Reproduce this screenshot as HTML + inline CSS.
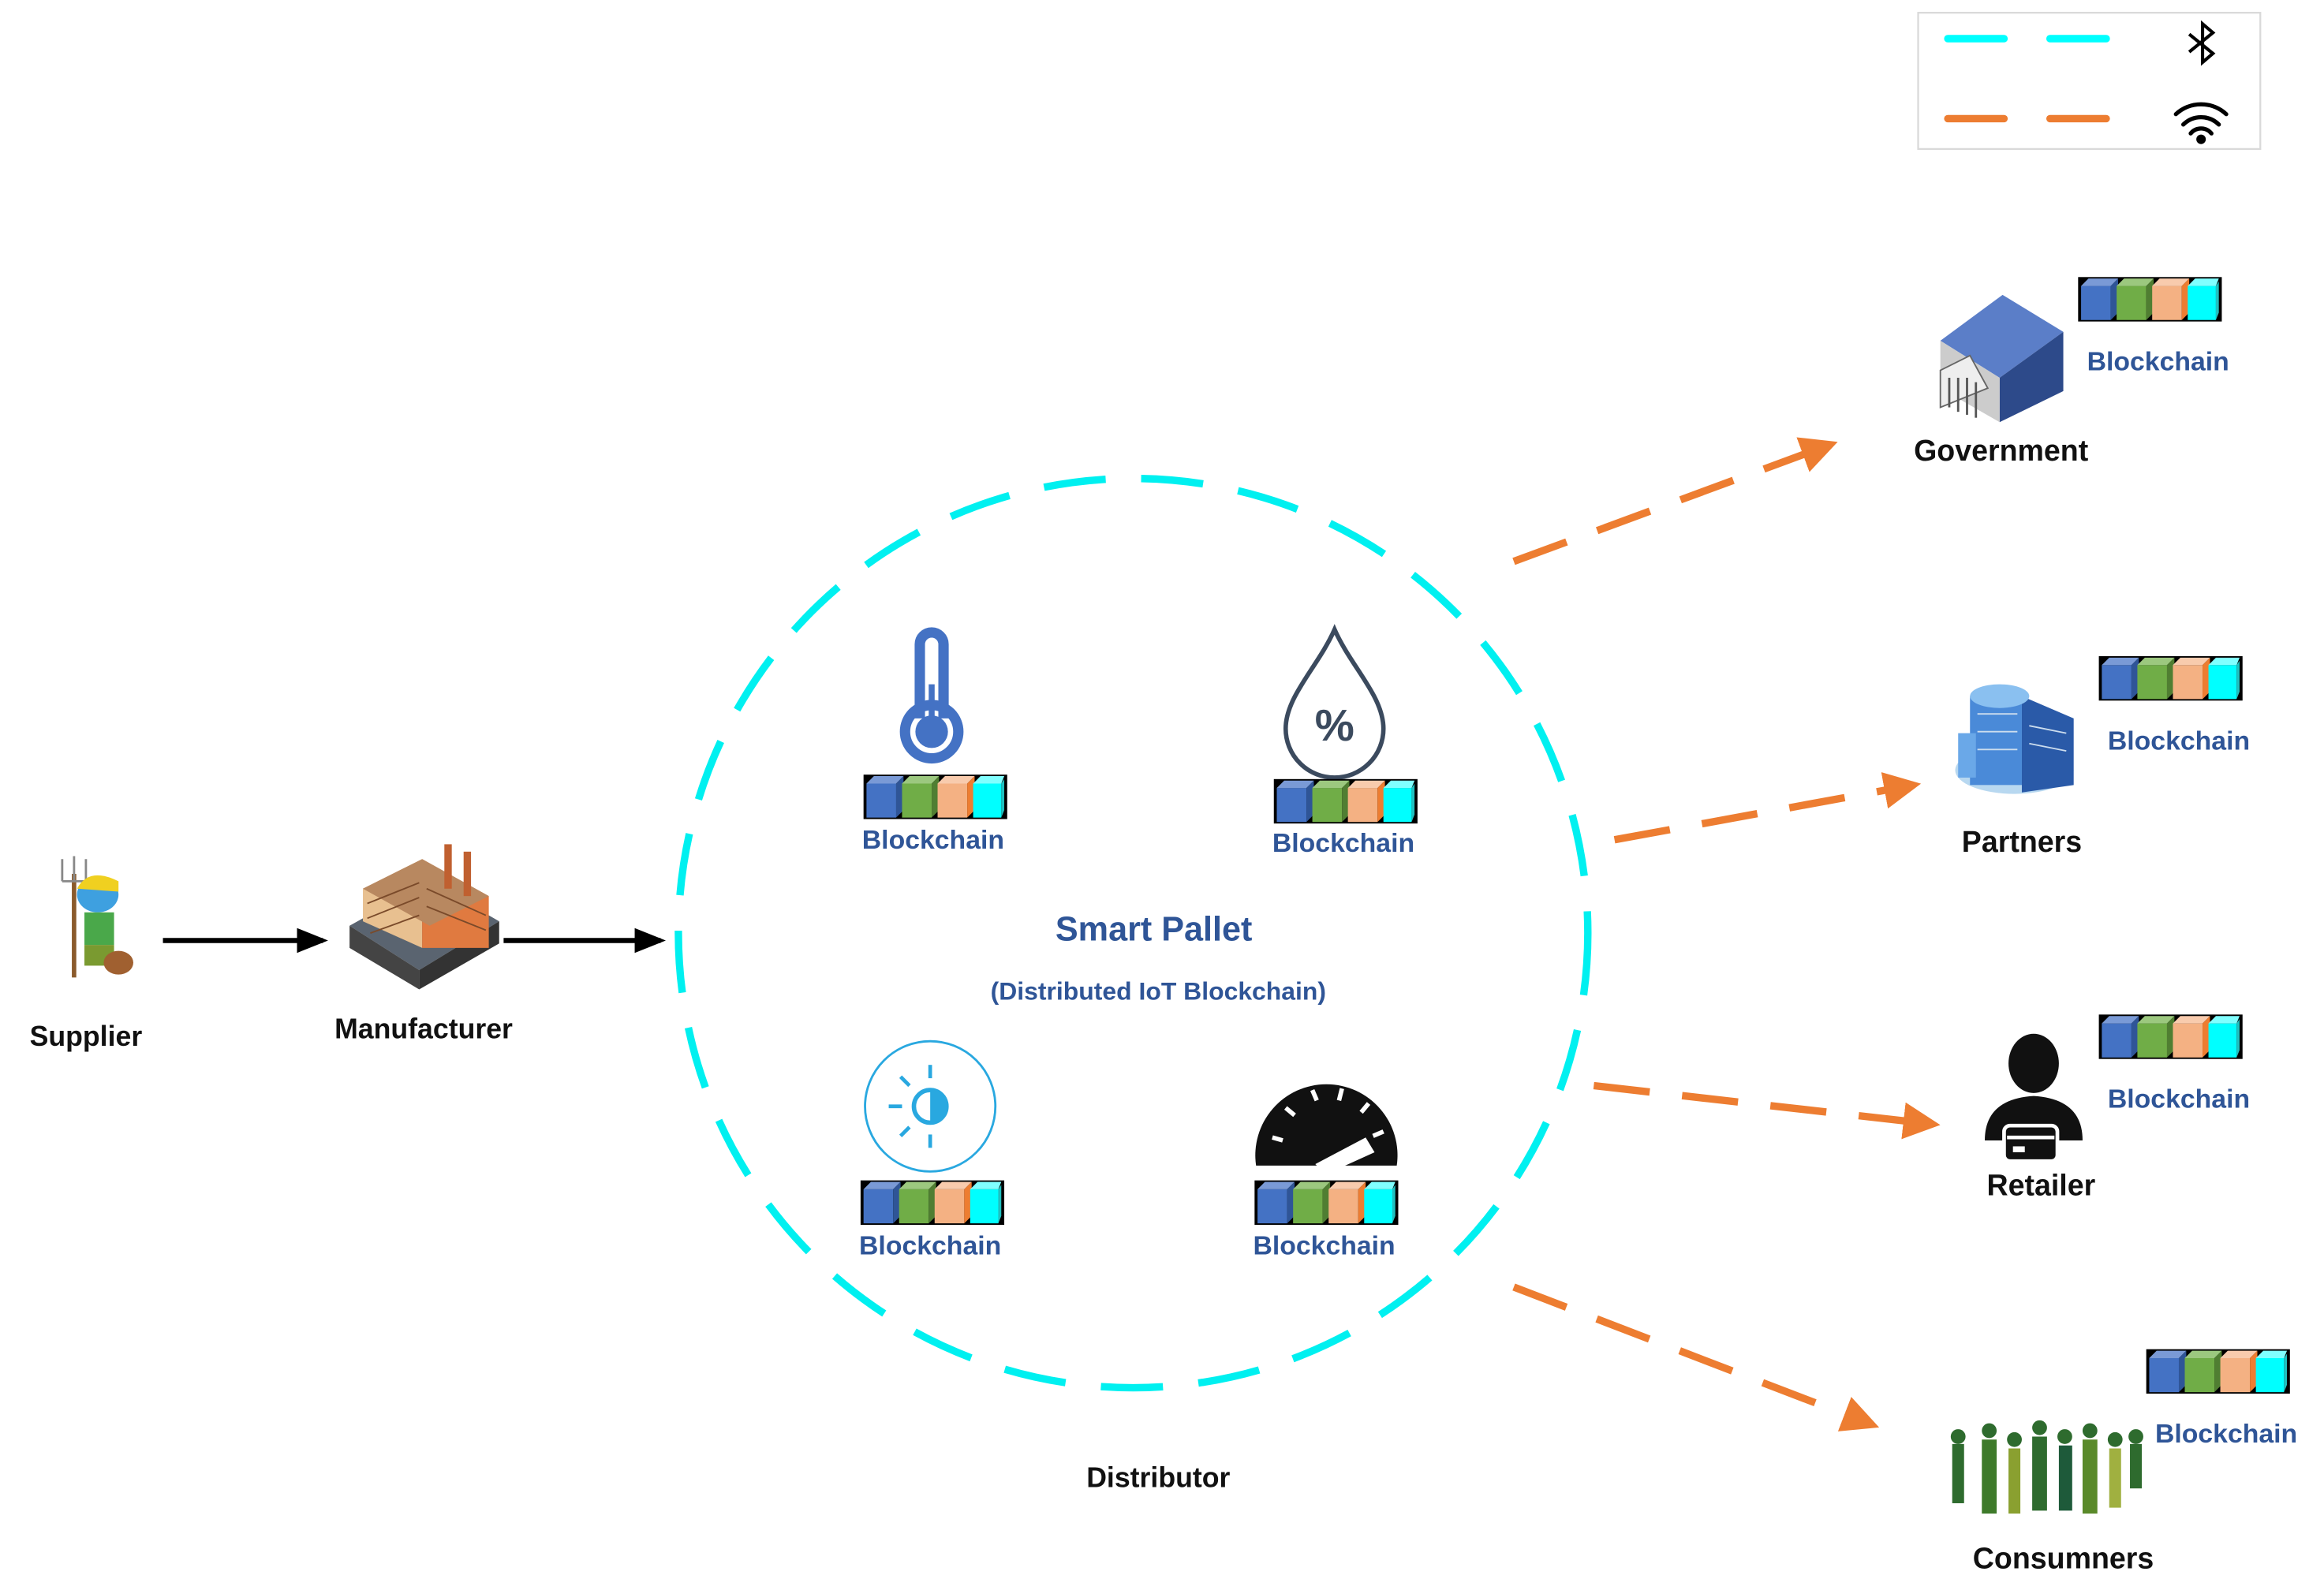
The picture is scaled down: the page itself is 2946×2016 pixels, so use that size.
<!DOCTYPE html>
<html><head><meta charset="utf-8"><style>
html,body{margin:0;padding:0;background:#fff;}
svg{display:block;}
text{font-family:"Liberation Sans",sans-serif;font-weight:bold;}
</style></head><body>
<svg width="2946" height="2016" viewBox="0 0 1569 1073.5" xmlns="http://www.w3.org/2000/svg">
<defs>
<g id="bc">
<rect x="0" y="0" width="97" height="30" fill="#000"/>
<g>
<rect x="2" y="6" width="20" height="23" fill="#4472C4"/><polygon points="2,6 7,1 27,1 22,6" fill="#7a9ad6"/><polygon points="22,6 27,1 27,24 22,29" fill="#2f5597"/>
<rect x="26" y="6" width="20" height="23" fill="#70AD47"/><polygon points="26,6 31,1 51,1 46,6" fill="#9cc87f"/><polygon points="46,6 51,1 51,24 46,29" fill="#507e32"/>
<rect x="50" y="6" width="20" height="23" fill="#F4B183"/><polygon points="50,6 55,1 75,1 70,6" fill="#f8cbad"/><polygon points="70,6 75,1 75,24 70,29" fill="#ed7d31"/>
<rect x="74" y="6" width="19" height="23" fill="#00FFFF"/><polygon points="74,6 79,1 95,1 93,6" fill="#80ffff"/><polygon points="93,6 95,3 95,24 93,29" fill="#20c0c0"/>
</g>
</g>
<marker id="ab" markerWidth="6" markerHeight="6" refX="5" refY="3" orient="auto" markerUnits="strokeWidth"><path d="M0,0.6 L6,3 L0,5.4 Z" fill="#000"/></marker>
<marker id="ao" markerWidth="5" markerHeight="5" refX="4" refY="2.5" orient="auto" markerUnits="strokeWidth"><path d="M0,0 L5,2.5 L0,5 Z" fill="#ED7D31"/></marker>
</defs>

<!-- legend -->
<rect x="1295" y="8.5" width="231" height="92" fill="#fff" stroke="#d9d9d9" stroke-width="1.2"/>
<g stroke-linecap="round" stroke-width="5">
<line x1="1315" y1="26" x2="1353" y2="26" stroke="#00FFFF"/>
<line x1="1384" y1="26" x2="1422" y2="26" stroke="#00FFFF"/>
<line x1="1315" y1="80" x2="1353" y2="80" stroke="#ED7D31"/>
<line x1="1384" y1="80" x2="1422" y2="80" stroke="#ED7D31"/>
</g>
<path d="M1478,23 L1494,36 L1487,42 L1487,16 L1494,22 L1478,35" fill="none" stroke="#000" stroke-width="2.2"/>
<g fill="none" stroke="#000" stroke-width="2.8" stroke-linecap="round">
<path d="M1469,77 A25,25 0 0 1 1503,77"/>
<path d="M1474,84 A17,17 0 0 1 1498,84"/>
<path d="M1479,90 A9,9 0 0 1 1493,90"/>
</g>
<circle cx="1486" cy="94" r="3.2" fill="#000"/>

<!-- circle -->
<ellipse cx="765" cy="630" rx="307" ry="307" fill="none" stroke="#00F0F0" stroke-width="5" stroke-dasharray="42 24"/>

<!-- black arrows -->
<line x1="110" y1="635" x2="218" y2="635" stroke="#000" stroke-width="3.5" marker-end="url(#ab)"/>
<line x1="340" y1="635" x2="446" y2="635" stroke="#000" stroke-width="3.5" marker-end="url(#ab)"/>

<!-- orange arrows -->
<g stroke="#ED7D31" stroke-width="5" stroke-dasharray="38 22" fill="none">
<line x1="1022" y1="379" x2="1236" y2="300" marker-end="url(#ao)"/>
<line x1="1090" y1="567" x2="1292" y2="530" marker-end="url(#ao)"/>
<line x1="1076" y1="733" x2="1305" y2="759" marker-end="url(#ao)"/>
<line x1="1022" y1="869" x2="1264" y2="962" marker-end="url(#ao)"/>
</g>

<!-- thermometer -->
<g fill="none" stroke="#4472C4" stroke-width="7">
<path d="M621,485 L621,435 A8,8 0 0 1 637,435 L637,485"/>
<circle cx="629" cy="494" r="18"/>
</g>
<circle cx="629" cy="494" r="11" fill="#4472C4"/>
<line x1="629" y1="462" x2="629" y2="494" stroke="#4472C4" stroke-width="4"/>
<use href="#bc" x="583" y="523"/>
<text x="630" y="573" text-anchor="middle" font-size="18" fill="#2F5597">Blockchain</text>

<!-- drop -->
<path d="M901,425 C890,450 868,470 868,492 A33,33 0 0 0 934,492 C934,470 912,450 901,425 Z" fill="none" stroke="#3b4a5e" stroke-width="3"/>
<text x="901" y="500" text-anchor="middle" font-size="30" fill="#3b4a5e" font-weight="normal">%</text>
<use href="#bc" x="860" y="526"/>
<text x="907" y="575" text-anchor="middle" font-size="18" fill="#2F5597">Blockchain</text>

<!-- smart pallet -->
<text x="779" y="635" text-anchor="middle" font-size="23" fill="#2F5597">Smart Pallet</text>
<text x="782" y="675" text-anchor="middle" font-size="17" fill="#2F5597">(Distributed IoT Blockchain)</text>

<!-- light sensor -->
<circle cx="628" cy="747" r="44" fill="none" stroke="#29A8E0" stroke-width="1.5"/>
<circle cx="628" cy="747" r="11" fill="none" stroke="#29A8E0" stroke-width="3"/>
<path d="M628,736 A11,11 0 0 1 628,758 Z" fill="#29A8E0"/>
<g stroke="#29A8E0" stroke-width="2.5">
<line x1="628" y1="719" x2="628" y2="728"/><line x1="628" y1="766" x2="628" y2="775"/>
<line x1="600" y1="747" x2="609" y2="747"/>
<line x1="608" y1="727" x2="614" y2="733"/><line x1="608" y1="767" x2="614" y2="761"/>
</g>
<use href="#bc" x="581" y="797"/>
<text x="628" y="847" text-anchor="middle" font-size="18" fill="#2F5597">Blockchain</text>

<!-- gauge -->
<path d="M848,787 A48,48 0 1 1 943,787 Z" fill="#111"/>
<g stroke="#fff" stroke-width="3">
<line x1="859" y1="768" x2="866" y2="770"/><line x1="868" y1="748" x2="874" y2="753"/>
<line x1="886" y1="736" x2="889" y2="743"/><line x1="906" y1="735" x2="904" y2="743"/>
<line x1="924" y1="745" x2="919" y2="751"/><line x1="934" y1="764" x2="927" y2="767"/>
</g>
<path d="M888,786 L922,768 L928,778 L895,793 Z" fill="#fff"/>
<use href="#bc" x="847" y="797"/>
<text x="894" y="847" text-anchor="middle" font-size="18" fill="#2F5597">Blockchain</text>

<text x="782" y="1004" text-anchor="middle" font-size="19" fill="#111">Distributor</text>

<!-- supplier -->
<g>
<line x1="50" y1="590" x2="50" y2="660" stroke="#8a5a2b" stroke-width="3"/>
<path d="M42,580 L42,595 M50,578 L50,595 M58,580 L58,595 M42,595 L58,595" stroke="#888" stroke-width="1.5" fill="none"/>
<ellipse cx="66" cy="604" rx="14" ry="12" fill="#3ea0e0"/>
<path d="M52,600 Q60,585 80,595 L80,602 Z" fill="#f0d020"/>
<rect x="57" y="616" width="20" height="22" fill="#4aa84a"/>
<rect x="57" y="638" width="20" height="14" fill="#7a9a30"/>
<ellipse cx="80" cy="650" rx="10" ry="8" fill="#a06030"/>
</g>
<text x="58" y="706" text-anchor="middle" font-size="19" fill="#111">Supplier</text>

<!-- manufacturer -->
<g>
<polygon points="236,625 290,595 337,622 283,655" fill="#5a6470"/>
<polygon points="236,625 283,655 283,668 236,640" fill="#444"/>
<polygon points="283,655 337,622 337,637 283,668" fill="#333"/>
<polygon points="245,600 285,580 285,640 245,622" fill="#e8c090"/>
<polygon points="285,580 330,605 330,640 285,640" fill="#e07a40"/>
<polygon points="245,600 285,580 330,605 290,625" fill="#b88860"/>
<rect x="300" y="570" width="5" height="30" fill="#c06030"/>
<rect x="313" y="575" width="5" height="30" fill="#c06030"/>
<g stroke="#7a4a2a" stroke-width="1"><line x1="248" y1="610" x2="283" y2="596"/><line x1="248" y1="620" x2="283" y2="606"/><line x1="250" y1="630" x2="283" y2="618"/><line x1="288" y1="600" x2="328" y2="618"/><line x1="288" y1="612" x2="328" y2="628"/></g>
</g>
<text x="286" y="701" text-anchor="middle" font-size="19" fill="#111">Manufacturer</text>

<!-- government -->
<g>
<polygon points="1310,230 1352,199 1393,224 1350,255" fill="#5b7ec8"/>
<polygon points="1350,255 1393,224 1393,264 1350,285" fill="#2d4a8a"/>
<polygon points="1310,230 1350,255 1350,285 1310,262" fill="#ccc"/>
<polygon points="1310,250 1330,240 1342,262 1310,275" fill="#eee" stroke="#666" stroke-width="1"/>
<g stroke="#555" stroke-width="1.5"><line x1="1316" y1="255" x2="1316" y2="275"/><line x1="1322" y1="255" x2="1322" y2="278"/><line x1="1328" y1="255" x2="1328" y2="280"/><line x1="1334" y1="258" x2="1334" y2="282"/></g>
</g>
<use href="#bc" x="1403" y="187"/>
<text x="1457" y="250" text-anchor="middle" font-size="18" fill="#2F5597">Blockchain</text>
<text x="1351" y="311" text-anchor="middle" font-size="20" fill="#111">Government</text>

<!-- partners -->
<g>
<ellipse cx="1360" cy="520" rx="40" ry="16" fill="#b8d8f0"/>
<rect x="1330" y="470" width="35" height="60" fill="#4a8ad8"/>
<polygon points="1365,470 1400,485 1400,530 1365,535" fill="#2a5aa8"/>
<ellipse cx="1350" cy="470" rx="20" ry="8" fill="#8ac0f0"/>
<rect x="1322" y="495" width="12" height="30" fill="#6aa8e8"/>
<g stroke="#cde" stroke-width="1"><line x1="1335" y1="482" x2="1362" y2="482"/><line x1="1335" y1="494" x2="1362" y2="494"/><line x1="1335" y1="506" x2="1362" y2="506"/><line x1="1370" y1="490" x2="1395" y2="495"/><line x1="1370" y1="502" x2="1395" y2="507"/></g>
</g>
<use href="#bc" x="1417" y="443"/>
<text x="1471" y="506" text-anchor="middle" font-size="18" fill="#2F5597">Blockchain</text>
<text x="1365" y="575" text-anchor="middle" font-size="20" fill="#111">Partners</text>

<!-- retailer -->
<g>
<ellipse cx="1373" cy="718" rx="17" ry="20" fill="#111"/>
<path d="M1340,770 Q1340,742 1373,740 Q1406,742 1406,770 Z" fill="#111"/>
<rect x="1353" y="760" width="36" height="24" rx="4" fill="#111" stroke="#fff" stroke-width="2.5"/>
<line x1="1355" y1="768" x2="1387" y2="768" stroke="#fff" stroke-width="2.5"/>
<rect x="1359" y="774" width="8" height="4" fill="#fff"/>
</g>
<use href="#bc" x="1417" y="685"/>
<text x="1471" y="748" text-anchor="middle" font-size="18" fill="#2F5597">Blockchain</text>
<text x="1378" y="807" text-anchor="middle" font-size="20" fill="#111">Retailer</text>

<!-- consumers -->
<g fill="#2e6b2e">
<rect x="1318" y="975" width="8" height="40"/><circle cx="1322" cy="970" r="5"/>
<rect x="1338" y="972" width="10" height="50" fill="#3e7a2a"/><circle cx="1343" cy="966" r="5"/>
<rect x="1356" y="978" width="8" height="44" fill="#8aa030"/><circle cx="1360" cy="972" r="5"/>
<rect x="1372" y="970" width="10" height="50"/><circle cx="1377" cy="964" r="5"/>
<rect x="1390" y="976" width="9" height="44" fill="#1e5a3a"/><circle cx="1394" cy="970" r="5"/>
<rect x="1406" y="972" width="10" height="50" fill="#5a8a2a"/><circle cx="1411" cy="966" r="5"/>
<rect x="1424" y="978" width="8" height="40" fill="#a0b040"/><circle cx="1428" cy="972" r="5"/>
<rect x="1438" y="975" width="8" height="30"/><circle cx="1442" cy="970" r="5"/>
</g>
<use href="#bc" x="1449" y="911"/>
<text x="1503" y="974" text-anchor="middle" font-size="18" fill="#2F5597">Blockchain</text>
<text x="1393" y="1059" text-anchor="middle" font-size="20" fill="#111">Consumners</text>
</svg>
</body></html>
